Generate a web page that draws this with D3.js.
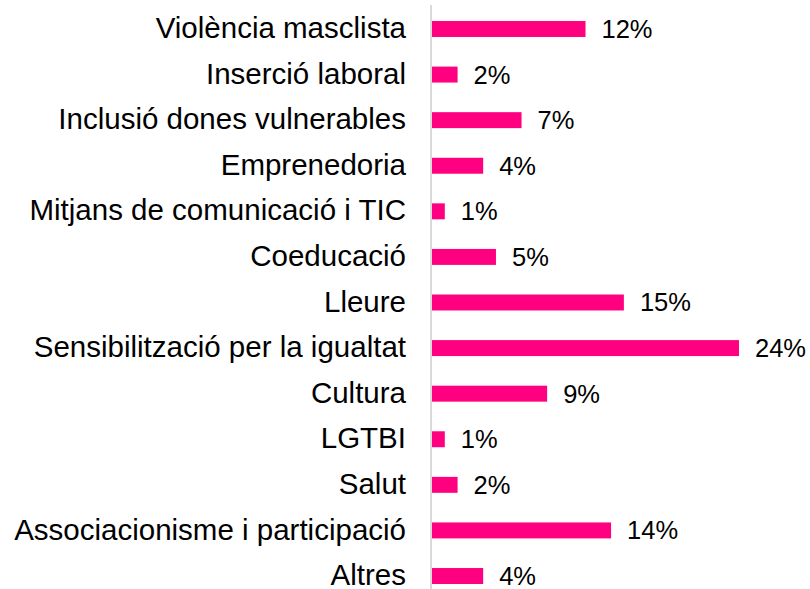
<!DOCTYPE html>
<html>
<head>
<meta charset="utf-8">
<script src="https://cdn.jsdelivr.net/npm/d3@7"></script>
<style>
    body { margin: 0; background: #fff; }
    svg text { font-family: "Liberation Sans", Arial, sans-serif; fill: #000; }
</style>
</head>
<body>
<div id="chart"></div>
<script>
// dades
const categories = [
    "Violència masclista",
    "Inserció laboral",
    "Inclusió dones vulnerables",
    "Emprenedoria",
    "Mitjans de comunicació i TIC",
    "Coeducació",
    "Lleure",
    "Sensibilització per la igualtat",
    "Cultura",
    "LGTBI",
    "Salut",
    "Associacionisme i participació",
    "Altres"
];
const values = [12, 2, 7, 4, 1, 5, 15, 24, 9, 1, 2, 14, 4];

const width = 810;
const height = 589;
const barColor = "#ff0080";

const svg = d3.select("#chart")
    .append("svg")
    .attr("width", width)
    .attr("height", height);

const axisX = 431;

const xScale = d3.scaleLinear()
    .domain([0, 24])
    .range([axisX + 1, 739]);

const yScale = d3.scaleBand()
    .domain(categories)
    .range([6.2, 598.8])
    .paddingInner(0.65)
    .paddingOuter(0.325);

// barres
svg.selectAll("rect.bar")
    .data(categories)
    .enter()
    .append("rect")
    .attr("class", "bar")
    .attr("x", xScale(0))
    .attr("y", (d) => yScale(d))
    .attr("width", (d, i) => xScale(values[i]) - xScale(0))
    .attr("height", yScale.bandwidth())
    .attr("fill", barColor);

// etiquetes de valor
svg.selectAll("text.value")
    .data(categories)
    .enter()
    .append("text")
    .attr("class", "value")
    .attr("x", (d, i) => xScale(values[i]) + 16)
    .attr("y", (d) => yScale(d) + yScale.bandwidth() / 2)
    .attr("dy", "0.35em")
    .attr("font-size", 25.5)
    .text((d, i) => `${values[i]}%`);

// eix vertical amb categories
const yAxis = svg.append("g")
    .attr("transform", `translate(${axisX}, 0)`)
    .call(d3.axisLeft(yScale).tickSize(0).tickPadding(25));

yAxis.select(".domain")
    .attr("d", `M0,5V${height}`)
    .attr("stroke", "#d9d9d9")
    .attr("stroke-width", 2);

yAxis.selectAll(".tick text")
    .attr("font-size", 29.5)
    .attr("dy", "0.31em")
    .attr("font-family", "Liberation Sans, Arial, sans-serif")
    .attr("fill", "#000");
</script>
</body>
</html>
